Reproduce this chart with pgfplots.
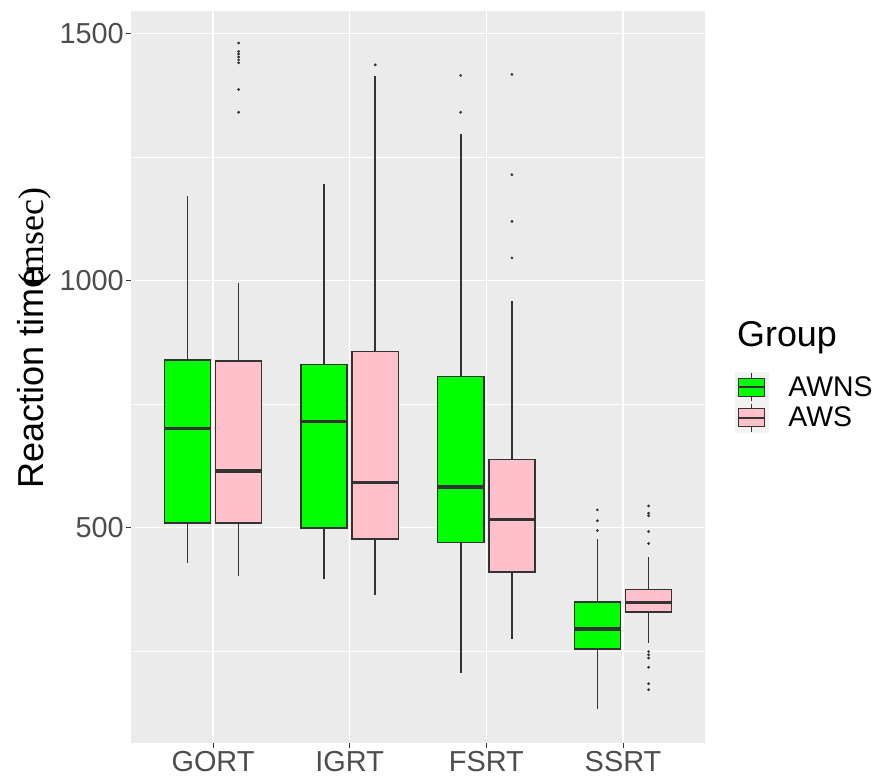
\documentclass[border=0pt]{standalone}
\usepackage{fontspec}
\setmainfont{Liberation Sans}
\newfontfamily\seriffont{Liberation Serif}
\usepackage{pgfplots}
\pgfplotsset{compat=1.18}
\definecolor{panelbg}{HTML}{EBEBEB}
\definecolor{gg20}{HTML}{333333}
\definecolor{gg30}{HTML}{4D4D4D}
\definecolor{ggkey}{HTML}{F2F2F2}
\definecolor{awns}{HTML}{00FF00}
\definecolor{aws}{HTML}{FFC0CB}
\pgfplotsset{
  boxsty/.style={draw=gg20, line width=1.6bp, fill=#1, mark=none, forget plot},
  medsty/.style={draw=gg20, line width=3.4bp, mark=none, forget plot},
  whsty/.style={draw=gg20, line width=1.6bp, mark=none, forget plot, unbounded coords=jump},
  outsty/.style={only marks, mark=*, mark size=1.2bp, gg20, mark options={fill=gg20, draw=gg20}, forget plot},
  keyimg/.style={
    legend image code/.code={
      \fill[ggkey] (0bp,-15bp) rectangle (33bp,15bp);
      \draw[gg20, line width=1bp] (16.5bp,-14bp) -- (16.5bp,-9bp);
      \draw[gg20, line width=1bp] (16.5bp,9bp) -- (16.5bp,14bp);
      \draw[gg20, line width=1bp, fill=#1] (3.5bp,-9bp) rectangle (29.5bp,9bp);
      \draw[gg20, line width=2bp] (3.5bp,0bp) -- (29.5bp,0bp);
      \path (53bp,0bp);
    }
  }
}
\begin{document}
\begin{tikzpicture}
\useasboundingbox (0,0) rectangle (877bp,778bp);
\begin{axis}[
  at={(131bp,35bp)}, anchor=south west,
  scale only axis, width=574bp, height=732bp,
  xmin=0.4, xmax=4.6, ymin=64, ymax=1546,
  axis background/.style={fill=panelbg},
  axis line style={draw=none},
  xtick={1,2,3,4}, xticklabels={GORT,IGRT,FSRT,SSRT},
  ytick={500,1000,1500}, minor ytick={250,750,1250},
  xmajorgrids, ymajorgrids, yminorgrids,
  major grid style={white, line width=1.5bp},
  minor grid style={white, line width=0.75bp},
  tick align=outside, tick pos=left,
  major tick length=5bp,
  minor tick style={draw=none},
  tick style={gg20, line width=1bp},
  ticklabel style={font=\fontsize{29}{33}\selectfont, text=gg30},
  xticklabel style={inner sep=3.5bp},
  yticklabel style={inner sep=2bp},
  /pgf/number format/assume math mode=true,
  /pgf/number format/1000 sep={},
  ylabel={Reaction time\kern-17bp\rlap{\seriffont\fontsize{36}{40}\selectfont(msec)}},
  ylabel style={at={(axis description cs:-0.1533,0.4863)}, anchor=base, font=\fontsize{36.2}{42}\selectfont, text=black},
  legend style={at={(axis description cs:1.0523,0.5068)}, anchor=north west,
    draw=none, fill=none, inner sep=0pt, outer sep=0pt,
    font=\fontsize{28.5}{32}\selectfont, row sep=0pt,
    nodes={inner sep=0pt}},
  legend cell align=left,
]
% ---------- GORT, AWNS ----------
\addplot[whsty] coordinates {(0.8125,429) (0.8125,509.5) (0.8125,nan) (0.8125,839.5) (0.8125,1172)};
\addplot[boxsty=awns] coordinates {(0.64375,509.5) (0.98125,509.5) (0.98125,839.5) (0.64375,839.5)} --cycle;
\addplot[medsty] coordinates {(0.64375,701) (0.98125,701)};
% ---------- GORT, AWS ----------
\addplot[whsty] coordinates {(1.1875,403) (1.1875,509) (1.1875,nan) (1.1875,837.5) (1.1875,994.5)};
\addplot[boxsty=aws] coordinates {(1.01875,509) (1.35625,509) (1.35625,837.5) (1.01875,837.5)} --cycle;
\addplot[medsty] coordinates {(1.01875,615) (1.35625,615)};
\addplot[outsty] coordinates {(1.1875,1481) (1.1875,1464) (1.1875,1459) (1.1875,1453) (1.1875,1447) (1.1875,1441) (1.1875,1387) (1.1875,1341)};
% ---------- IGRT, AWNS ----------
\addplot[whsty] coordinates {(1.8125,397) (1.8125,499) (1.8125,nan) (1.8125,830.6) (1.8125,1196)};
\addplot[boxsty=awns] coordinates {(1.64375,499) (1.98125,499) (1.98125,830.6) (1.64375,830.6)} --cycle;
\addplot[medsty] coordinates {(1.64375,715) (1.98125,715)};
% ---------- IGRT, AWS ----------
\addplot[whsty] coordinates {(2.1875,363) (2.1875,476.5) (2.1875,nan) (2.1875,857) (2.1875,1414)};
\addplot[boxsty=aws] coordinates {(2.01875,476.5) (2.35625,476.5) (2.35625,857) (2.01875,857)} --cycle;
\addplot[medsty] coordinates {(2.01875,591) (2.35625,591)};
\addplot[outsty] coordinates {(2.1875,1437)};
% ---------- FSRT, AWNS ----------
\addplot[whsty] coordinates {(2.8125,206.5) (2.8125,469.6) (2.8125,nan) (2.8125,805.7) (2.8125,1297.5)};
\addplot[boxsty=awns] coordinates {(2.64375,469.6) (2.98125,469.6) (2.98125,805.7) (2.64375,805.7)} --cycle;
\addplot[medsty] coordinates {(2.64375,582) (2.98125,582)};
\addplot[outsty] coordinates {(2.8125,1415.5) (2.8125,1341)};
% ---------- FSRT, AWS ----------
\addplot[whsty] coordinates {(3.1875,275.3) (3.1875,410) (3.1875,nan) (3.1875,637.6) (3.1875,958)};
\addplot[boxsty=aws] coordinates {(3.01875,410) (3.35625,410) (3.35625,637.6) (3.01875,637.6)} --cycle;
\addplot[medsty] coordinates {(3.01875,517) (3.35625,517)};
\addplot[outsty] coordinates {(3.1875,1417.5) (3.1875,1214.5) (3.1875,1120) (3.1875,1046)};
% ---------- SSRT, AWNS ----------
\addplot[whsty] coordinates {(3.8125,132) (3.8125,254) (3.8125,nan) (3.8125,349) (3.8125,476.5)};
\addplot[boxsty=awns] coordinates {(3.64375,254) (3.98125,254) (3.98125,349) (3.64375,349)} --cycle;
\addplot[medsty] coordinates {(3.64375,295) (3.98125,295)};
\addplot[outsty] coordinates {(3.8125,536) (3.8125,514) (3.8125,494)};
% ---------- SSRT, AWS ----------
\addplot[whsty] coordinates {(4.1875,266) (4.1875,329) (4.1875,nan) (4.1875,375) (4.1875,440)};
\addplot[boxsty=aws] coordinates {(4.01875,329) (4.35625,329) (4.35625,375) (4.01875,375)} --cycle;
\addplot[medsty] coordinates {(4.01875,349) (4.35625,349)};
\addplot[outsty] coordinates {(4.1875,544) (4.1875,529) (4.1875,524) (4.1875,492) (4.1875,468) (4.1875,249) (4.1875,242.5) (4.1875,236) (4.1875,217.5) (4.1875,184) (4.1875,172)};
% ---------- legend ----------
\addlegendimage{keyimg=awns}
\addlegendentry{AWNS}
\addlegendimage{keyimg=aws}
\addlegendentry{AWS}
\end{axis}
\node[anchor=base west, font=\fontsize{36}{40}\selectfont, inner sep=0pt] at (737bp,431bp) {Group};
\end{tikzpicture}
\end{document}
